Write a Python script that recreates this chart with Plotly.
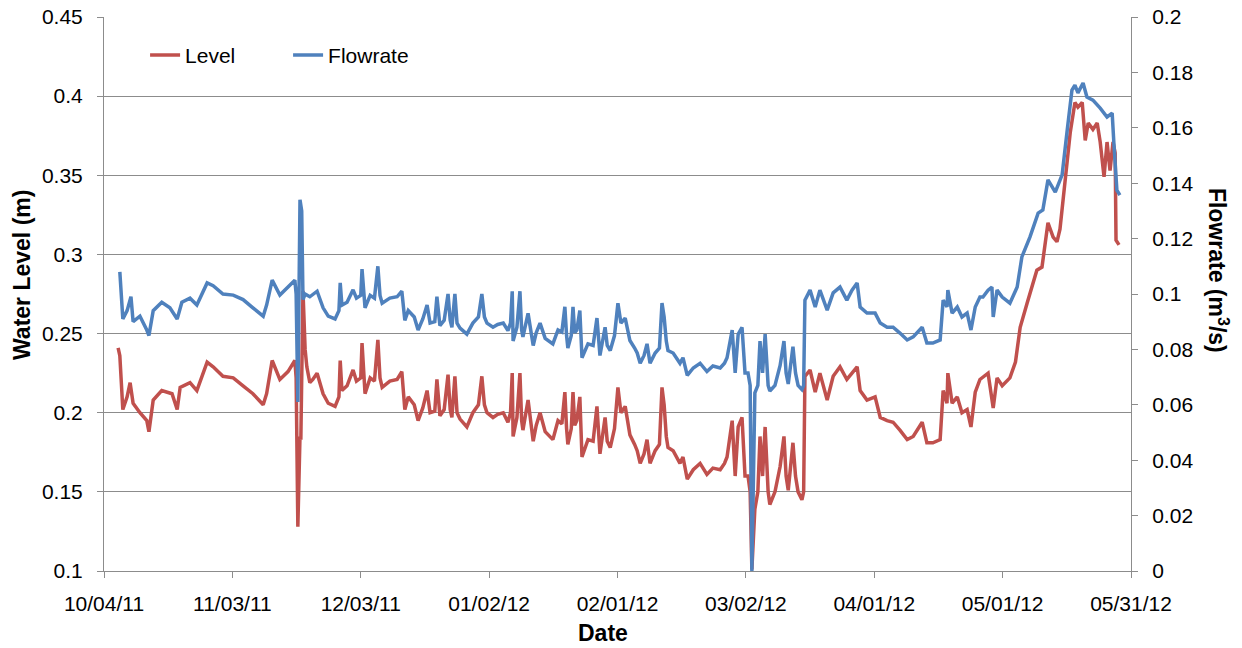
import pandas as pd
import plotly.graph_objects as go

START = "2011-10-04"

# Water level (m): days after 10/04/11 and value
level_days = [3.3, 3.7, 4.4, 5.4, 6.1, 6.8, 8.4, 10.0, 10.5, 11.5, 13.5, 15.9, 17.1, 17.8, 20.1, 21.7,
              24.1, 25.5, 27.8, 30.2, 32.5, 34.8, 37.2, 38.0, 39.3, 41.1, 43.0, 44.6, 44.9, 45.3, 45.8,
              46.0, 46.5, 47.0, 47.4, 48.1, 48.8, 49.8, 51.2,
              52.4, 54.0, 54.9, 55.2, 55.6, 56.8, 57.6, 58.2, 59.0, 60.0, 60.3, 60.7, 61.0, 62.2, 63.2,
              64.0, 64.5, 65.0, 66.8, 68.5, 69.6, 70.3, 71.1, 72.5, 73.4, 74.5, 75.5, 76.2, 77.3, 77.8,
              78.3, 78.5, 79.5, 80.4, 80.9, 81.3, 82.0, 82.5, 83.2, 84.8, 86.2, 87.5, 88.3, 88.9, 89.5,
              90.9, 92.0, 93.3, 94.4, 95.0, 95.4, 95.6, 96.5, 97.2, 97.6, 97.9, 99.1, 100.3, 101.0,
              101.9, 103.1, 104.9, 105.6, 106.1, 107.0, 107.7, 108.1, 108.4, 109.2, 109.6, 110.0, 110.5,
              111.2, 111.5, 111.7, 113.1, 114.3, 115.2, 115.6, 115.9, 117.1, 117.6, 118.3, 119.3, 120.1,
              120.8, 121.8, 122.9, 124.0, 124.6, 125.3, 126.2, 126.9, 127.6, 128.8, 129.8, 130.4, 130.9,
              131.4, 131.8, 133.0, 134.6, 135.3, 136.3, 137.7, 139.3, 140.9, 142.3, 144.0, 145.0, 145.6,
              146.8, 147.5, 148.2, 149.1, 149.8, 150.5, 151.0, 151.4, 151.8, 152.1, 152.8, 153.3, 153.9,
              154.5, 155.2, 155.6, 156.8, 158.0, 158.9, 159.4, 159.9, 161.0, 161.6, 162.2, 163.1, 163.5,
              163.8, 165.0, 166.2, 167.3, 169.0, 170.4, 172.0, 173.6, 174.8, 176.0, 176.7, 178.3, 180.2,
              181.4, 183.0, 184.4, 186.0, 187.7, 189.1, 191.2, 192.3, 193.7, 195.4, 196.1, 197.0, 197.2,
              198.2, 199.4, 200.5, 201.7, 202.6, 203.6, 204.7, 206.6, 207.8, 208.7, 209.9, 211.7, 213.0,
              213.6, 214.1, 215.7, 218.0, 219.2, 220.6, 221.8, 222.7, 223.4, 224.6, 225.8, 226.9, 227.6,
              228.6, 229.3, 230.0, 231.1, 232.1, 232.8, 233.7, 234.4, 235.1, 235.8, 236.3, 236.5, 237.2]
level_vals = [0.241, 0.236, 0.202, 0.210, 0.219, 0.206, 0.200, 0.195, 0.188, 0.208, 0.214, 0.212, 0.202,
              0.216, 0.219, 0.214, 0.232, 0.229, 0.223, 0.222, 0.217, 0.212, 0.205, 0.212, 0.233, 0.221,
              0.226, 0.233, 0.222, 0.128, 0.185, 0.183, 0.277, 0.240, 0.229, 0.219, 0.221, 0.225, 0.212,
              0.206, 0.204, 0.210, 0.233, 0.214, 0.217, 0.222, 0.227, 0.220, 0.222, 0.244, 0.220, 0.212,
              0.222, 0.220, 0.246, 0.222, 0.216, 0.220, 0.221, 0.226, 0.202, 0.210, 0.205, 0.195, 0.203,
              0.214, 0.200, 0.201, 0.221, 0.203, 0.198, 0.202, 0.224, 0.202, 0.197, 0.223, 0.200, 0.196,
              0.191, 0.200, 0.205, 0.223, 0.205, 0.200, 0.197, 0.199, 0.200, 0.194, 0.200, 0.225, 0.185,
              0.197, 0.225, 0.195, 0.189, 0.208, 0.182, 0.192, 0.200, 0.188, 0.183, 0.190, 0.195, 0.193,
              0.213, 0.190, 0.180, 0.190, 0.213, 0.192, 0.195, 0.210, 0.185, 0.172, 0.183, 0.182, 0.204,
              0.182, 0.174, 0.197, 0.182, 0.178, 0.190, 0.216, 0.200, 0.204, 0.186, 0.180, 0.176, 0.168,
              0.174, 0.183, 0.168, 0.176, 0.180, 0.216, 0.205, 0.185, 0.178, 0.176, 0.168, 0.172, 0.158,
              0.164, 0.168, 0.161, 0.165, 0.164, 0.168, 0.172, 0.195, 0.160, 0.191, 0.197, 0.160, 0.160,
              0.150, 0.101, 0.120, 0.139, 0.150, 0.185, 0.160, 0.191, 0.150, 0.142, 0.150, 0.166, 0.185,
              0.160, 0.151, 0.181, 0.160, 0.150, 0.145, 0.150,
              0.223, 0.227, 0.213, 0.225, 0.208, 0.223, 0.229, 0.221, 0.225, 0.229, 0.214, 0.208, 0.210,
              0.197, 0.195, 0.194, 0.189, 0.183, 0.185, 0.194, 0.181, 0.181, 0.183, 0.214, 0.206, 0.225,
              0.206, 0.210, 0.200, 0.202, 0.191, 0.213, 0.221, 0.225, 0.203, 0.222, 0.217, 0.222, 0.232,
              0.245, 0.254, 0.269, 0.290, 0.292, 0.320, 0.311, 0.308, 0.316, 0.347, 0.377, 0.396, 0.393,
              0.396, 0.372, 0.383, 0.379, 0.383, 0.371, 0.349, 0.371, 0.353, 0.371, 0.364, 0.309, 0.306]

# Flowrate (m3/s): days after 10/04/11 and value
flow_days = [3.7, 4.4, 5.4, 6.3, 6.8, 8.4, 10.0, 10.5, 11.5, 13.5, 15.4, 17.1, 18.2, 20.1, 21.7, 24.1,
             25.5, 27.8, 30.2, 32.5, 34.8, 37.2, 38.0, 39.3, 41.1, 43.0, 44.6, 44.9, 45.3, 45.8, 46.2,
             46.5, 47.0, 48.1, 49.8, 51.2,
             52.4, 54.0, 54.9, 55.2, 55.6, 56.8, 57.6, 58.2, 59.0, 60.0, 60.3, 60.7, 61.0, 62.2, 63.2,
             64.0, 64.5, 65.0, 66.8, 68.5, 69.6, 70.3, 71.1, 72.5, 73.4, 74.5, 75.5, 76.2, 77.3, 77.8,
             78.3, 78.5, 79.5, 80.4, 80.9, 81.3, 82.0, 82.5, 83.2, 84.8, 86.2, 87.5, 88.3, 88.9, 89.5,
             90.9, 92.0, 93.3, 94.4, 95.0, 95.4, 95.6, 96.5, 97.2, 97.6, 97.9, 99.1, 100.3, 101.0,
             101.9, 103.1, 104.9, 105.6, 106.1, 107.0, 107.7, 108.1, 108.4, 109.2, 109.6, 110.0, 110.5,
             111.2, 111.5, 111.7, 113.1, 114.3, 115.2, 115.6, 115.9, 117.1, 117.6, 118.3, 119.3, 120.1,
             120.8, 121.8, 122.9, 124.0, 124.6, 125.3, 126.2, 126.9, 127.6, 128.8, 129.8, 130.4, 130.9,
             131.4, 131.8, 133.0, 134.6, 135.3, 136.3, 137.7, 139.3, 140.9, 142.3, 144.0, 145.0, 145.6,
             146.8, 147.5, 148.2, 149.1, 149.8, 150.5, 151.0, 151.4, 151.8, 152.1, 152.8, 153.3, 153.9,
             154.5, 155.2, 155.6, 156.8, 158.0, 158.9, 159.4, 159.9, 161.0, 161.6, 162.2, 163.1, 163.5,
             163.8, 165.0, 166.2, 167.3, 169.0, 170.4, 172.0, 173.6, 174.8, 176.0, 176.7, 178.3, 180.2,
             181.4, 183.0, 184.4, 186.0, 187.7, 189.1, 191.2, 192.3, 193.7, 195.4, 196.1, 197.0, 197.2,
             198.2, 199.4, 200.5, 201.7, 202.6, 203.6, 204.7, 205.4, 206.6, 207.5, 207.8, 208.7, 209.9,
             211.7, 213.4, 214.5, 216.4, 218.3, 219.4, 220.6, 222.3, 223.9, 225.1, 226.2, 226.9, 227.6,
             228.8, 229.7, 231.1, 232.8, 234.4, 235.6, 236.0, 236.7, 237.4]
flow_vals = [0.108, 0.091, 0.094, 0.099, 0.090, 0.092, 0.087, 0.085, 0.094, 0.097, 0.095, 0.091, 0.097,
             0.0985, 0.096, 0.104, 0.103, 0.100, 0.0996, 0.098, 0.095, 0.092, 0.096, 0.105, 0.0996,
             0.1025, 0.105, 0.100, 0.061, 0.134, 0.130, 0.098, 0.100, 0.099, 0.101, 0.095,
             0.092, 0.091, 0.094, 0.104, 0.096, 0.097, 0.0995, 0.1015, 0.0985, 0.0995, 0.109, 0.0985,
             0.095, 0.0995, 0.0985, 0.110, 0.0995, 0.0967, 0.0985, 0.099, 0.101, 0.0905, 0.094, 0.0917,
             0.087, 0.091, 0.096, 0.0895, 0.090, 0.099, 0.091, 0.0886, 0.0905, 0.100, 0.0905, 0.088,
             0.100, 0.0895, 0.0877, 0.0855, 0.0895, 0.0917, 0.100, 0.0917, 0.0895, 0.088, 0.089, 0.0895,
             0.0868, 0.0895, 0.101, 0.083, 0.088, 0.101, 0.087, 0.0845, 0.093, 0.0814, 0.086, 0.0895,
             0.084, 0.082, 0.085, 0.087, 0.0863, 0.0954, 0.085, 0.0805, 0.085, 0.0954, 0.086, 0.087,
             0.094, 0.083, 0.077, 0.082, 0.0814, 0.0913, 0.0814, 0.0778, 0.088, 0.0814, 0.0796, 0.085,
             0.0967, 0.0895, 0.0913, 0.0832, 0.0805, 0.0787, 0.075, 0.0778, 0.082, 0.075, 0.0787, 0.0805,
             0.0967, 0.0917, 0.083, 0.0796, 0.0787, 0.075, 0.077, 0.0706, 0.0733, 0.075, 0.072, 0.074,
             0.0733, 0.075, 0.077, 0.087, 0.0715, 0.0855, 0.088, 0.0715, 0.0715, 0.067, 0.0, 0.030,
             0.0643, 0.067, 0.083, 0.0715, 0.0855, 0.067, 0.065, 0.067, 0.0742, 0.083, 0.0715, 0.0675,
             0.081, 0.0715, 0.067, 0.0655, 0.067,
             0.0978, 0.1014, 0.0953, 0.1014, 0.0942, 0.1004, 0.1025, 0.0978, 0.1014, 0.104, 0.0953,
             0.0931, 0.0931, 0.0895, 0.088, 0.088, 0.0859, 0.0834, 0.0845, 0.088, 0.0823, 0.0823, 0.0834,
             0.0978, 0.0953, 0.1014, 0.0931, 0.0953, 0.0917, 0.0931, 0.087, 0.0953, 0.0989, 0.0989,
             0.1014, 0.1025, 0.0917, 0.1014, 0.0989, 0.0967, 0.1025, 0.1134, 0.1206, 0.1292, 0.1303,
             0.1412, 0.1368, 0.143, 0.1592, 0.1736, 0.1754, 0.1726, 0.1762, 0.1711, 0.170, 0.1671,
             0.1639, 0.1653, 0.1545, 0.1375, 0.1357]

tick_dates = ["2011-10-04", "2011-11-03", "2011-12-03", "2012-01-02", "2012-02-01",
              "2012-03-02", "2012-04-01", "2012-05-01", "2012-05-31"]
level_ticks = [0.1, 0.15, 0.2, 0.25, 0.3, 0.35, 0.4, 0.45]
level_tick_text = ["0.1", "0.15", "0.2", "0.25", "0.3", "0.35", "0.4", "0.45"]
flow_ticks = [0, 0.02, 0.04, 0.06, 0.08, 0.1, 0.12, 0.14, 0.16, 0.18, 0.2]
flow_tick_text = ["0", "0.02", "0.04", "0.06", "0.08", "0.1", "0.12", "0.14", "0.16", "0.18", "0.2"]

start = pd.Timestamp(START)
level_x = [start + pd.to_timedelta(d, unit="D") for d in level_days]
flow_x = [start + pd.to_timedelta(d, unit="D") for d in flow_days]

FONT = "Liberation Sans"
GRID = "#8c8c8c"

fig = go.Figure()
fig.add_trace(go.Scatter(x=level_x, y=level_vals, name="Level", mode="lines",
                         line=dict(color="#C0504D", width=3.5), yaxis="y"))
fig.add_trace(go.Scatter(x=flow_x, y=flow_vals, name="Flowrate", mode="lines",
                         line=dict(color="#4F81BD", width=3.5), yaxis="y2"))

fig.update_layout(
    width=1242, height=648,
    margin=dict(l=104, r=111, t=17, b=77, autoexpand=False),
    paper_bgcolor="white", plot_bgcolor="white",
    font=dict(family=FONT, size=21, color="black"),
    showlegend=True,
    legend=dict(orientation="h", x=0.04, y=0.931, xanchor="left", yanchor="middle",
                font=dict(size=21), entrywidth=98, entrywidthmode="pixels",
                bgcolor="rgba(0,0,0,0)"),
    xaxis=dict(type="date", range=[tick_dates[0], tick_dates[-1]],
               tickvals=tick_dates, tickformat="%m/%d/%y", automargin=False,
               showgrid=False, showline=True, linecolor=GRID, linewidth=1,
               ticks="outside", ticklen=6, tickcolor=GRID, ticklabelstandoff=8,
               ticklabeloverflow="allow", zeroline=False),
    yaxis=dict(range=[0.1, 0.45], tickvals=level_ticks, ticktext=level_tick_text,
               automargin=False, ticklabeloverflow="allow",
               showgrid=True, gridcolor=GRID, gridwidth=1,
               showline=True, linecolor=GRID, linewidth=1,
               ticks="outside", ticklen=6, tickcolor=GRID, zeroline=False,
               ticklabelstandoff=10),
    yaxis2=dict(range=[0, 0.2], tickvals=flow_ticks, ticktext=flow_tick_text,
                overlaying="y", side="right", automargin=False, ticklabeloverflow="allow",
                showgrid=False, showline=True, linecolor=GRID, linewidth=1,
                ticks="outside", ticklen=6, tickcolor=GRID, zeroline=False,
                ticklabelstandoff=10),
    annotations=[
        dict(text="<b>Water Level (m)</b>", xref="paper", yref="paper", x=-0.08, y=0.534,
             xanchor="center", yanchor="middle", textangle=-90, showarrow=False,
             font=dict(size=23, family=FONT)),
        dict(text="<b>Flowrate (m<sup>3</sup>/s)</b>", xref="paper", yref="paper", x=1.085, y=0.543,
             xanchor="center", yanchor="middle", textangle=90, showarrow=False,
             font=dict(size=23, family=FONT)),
        dict(text="<b>Date</b>", xref="paper", yref="paper", x=0.486, y=-0.112,
             xanchor="center", yanchor="middle", showarrow=False,
             font=dict(size=23, family=FONT)),
    ],
)

fig.write_html("out.html", config={"displayModeBar": False},
               post_script="document.body.style.margin='0';document.body.style.overflow='hidden';")
